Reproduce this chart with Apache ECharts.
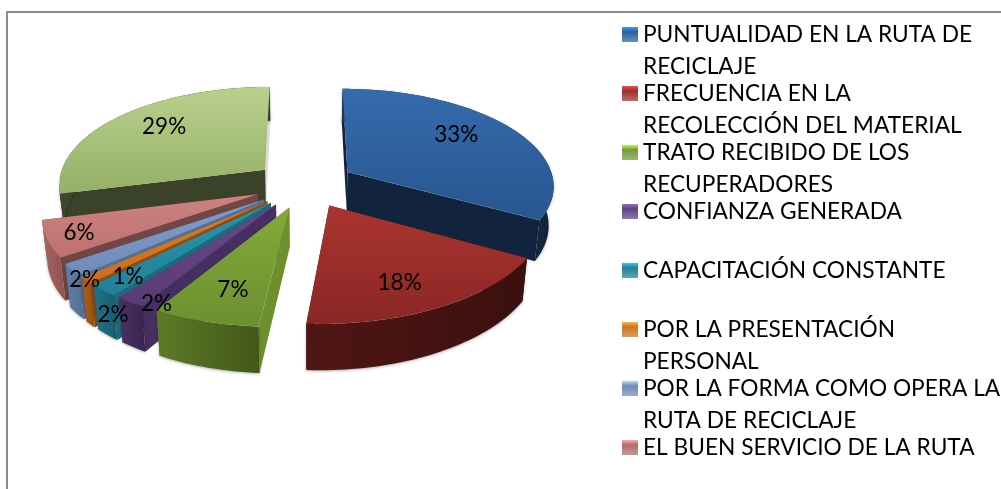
<!DOCTYPE html>
<html><head><meta charset="utf-8">
<style>html,body{margin:0;padding:0;background:#fff;overflow:hidden}#c{width:1001px;height:489px}</style>
<script src="https://cdn.jsdelivr.net/npm/echarts@6/dist/echarts.min.js"></script>
</head><body><div id="c"></div>
<script>
const categories=['PUNTUALIDAD EN LA RUTA DE RECICLAJE','FRECUENCIA EN LA RECOLECCIÓN DEL MATERIAL','TRATO RECIBIDO DE LOS RECUPERADORES','CONFIANZA GENERADA','CAPACITACIÓN CONSTANTE','POR LA PRESENTACIÓN PERSONAL','POR LA FORMA COMO OPERA LA RUTA DE RECICLAJE','EL BUEN SERVICIO DE LA RUTA','OTROS'];
const values=[33,18,7,2,2,1,2,6,29];
const legendLines=[['PUNTUALIDAD EN LA RUTA DE','RECICLAJE'],['FRECUENCIA EN LA','RECOLECCIÓN DEL MATERIAL'],['TRATO RECIBIDO DE LOS','RECUPERADORES'],['CONFIANZA GENERADA',' '],['CAPACITACIÓN CONSTANTE',' '],['POR LA PRESENTACIÓN','PERSONAL'],['POR LA FORMA COMO OPERA LA','RUTA DE RECICLAJE'],['EL BUEN SERVICIO DE LA RUTA',' ']];
const topColors=[['#356bad','#28568f'],['#ab3430','#8a2725'],['#82aa39','#6d9030'],['#6a4788','#593c74'],['#2995b0','#228098'],['#dd7e28','#c96f20'],['#7f9dcb','#6f8cb9'],['#cd8280','#bd7270'],['#b8d08c','#96b068']];
const outerColors=[['#1a3556','#12233d'],['#501614','#3a100e'],['#5c7b26','#435819'],['#4a3166','#38254e'],['#1f7387','#185c6d'],['#ad5f1a','#93500f'],['#6480a8','#526c90'],['#a96563','#8c5250'],['#3d4630','#343c28']];
const innerColors=['#12233d','#3a100e','#6d8f2d','#452e60','#1c6a7c','#8a4e16','#566f96','#714647','#3a432a'];
const endWallColors=['#12233d','#3a100e','#6d8f2d','#452e60','#1c6a7c','#8a4e16','#566f96','#714647','rgba(90,90,90,0.22)'];
const legendColors=['#2c5f9e','#9b2f2c','#76993a','#5f4280','#217f97','#cf7322','#6f8bb5','#b06c6a'];
const drawOrder=[8,0,7,6,5,4,3,1,2];
const labelNudges=[[6,-9],[4,17],[-8.5,15],[-35,41],[-60,60],[-33,28],[-66,38],[-52,11],[-8,-9]];
const pie={cx:304.5,cy:184,A:207,B:97,p:0.13,explode:0.245,h:39,rot:0,bend:8,skew:8,converge:0.02,labelR:0.62};

const total=values.reduce((a,b)=>a+b,0);
const rad=d=>d*Math.PI/180;
function proj(x,y,down){
  const s=1/(1-pie.p*y),b=Math.max(0,y);
  const sx=pie.cx+pie.A*x*s-pie.bend*b*b-pie.skew*b*Math.max(0,-x);
  const k=down?1-pie.converge:1;
  return [pie.cx+(sx-pie.cx)*k,pie.cy+pie.B*y*s+down*s];
}
function sliceAngles(i){let c=0;for(let k=0;k<i;k++)c+=values[k];return [pie.rot+c/total*360,pie.rot+(c+values[i])/total*360];}
function apex(i){const a=sliceAngles(i),m=rad((a[0]+a[1])/2);return [pie.explode*Math.sin(m),-pie.explode*Math.cos(m)];}
function rim(ap,deg,r){return [ap[0]+r*Math.sin(rad(deg)),ap[1]-r*Math.cos(rad(deg))];}
function grad(c,h){return new echarts.graphic.LinearGradient(0,0,h?1:0,h?0:1,[{offset:0,color:c[0]},{offset:1,color:c[1]}]);}
function renderSlice(i){
  const a=sliceAngles(i),ap=apex(i),arc=[];
  for(let d=a[0];d<a[1];d+=1.5)arc.push(rim(ap,d,1));arc.push(rim(ap,a[1],1));
  const top=[ap].concat(arc).map(q=>proj(q[0],q[1],0));
  const wallTop=arc.map(q=>proj(q[0],q[1],0)),wallBot=arc.map(q=>proj(q[0],q[1],pie.h)).reverse();
  const A0=proj(ap[0],ap[1],0),A1=proj(ap[0],ap[1],pie.h);
  const wall=(q)=>[A0,proj(q[0],q[1],0),proj(q[0],q[1],pie.h),A1];
  return {type:'group',children:[
    {type:'polygon',z2:1,shape:{points:wall(arc[0])},style:{fill:innerColors[i]}},
    {type:'polygon',z2:2,shape:{points:wall(arc[arc.length-1])},style:{fill:endWallColors[i]}},
    {type:'polygon',z2:3,shape:{points:wallTop.concat(wallBot)},style:{fill:grad(outerColors[i],true),shadowBlur:3,shadowColor:'rgba(0,0,0,0.3)',shadowOffsetY:1}},
    {type:'polygon',z2:4,shape:{points:top},style:{fill:grad(topColors[i],false)}}
  ]};
}
function renderLabel(params,api){
  const i=params.dataIndex,a=sliceAngles(i),ap=apex(i),q=rim(ap,(a[0]+a[1])/2,pie.labelR),p=proj(q[0],q[1],0);
  return {type:'text',style:{x:p[0]+labelNudges[i][0],y:p[1]+labelNudges[i][1],text:api.value(0)+'%',fill:'#000',font:'22.5px Lato',align:'center',verticalAlign:'middle'}};
}
const series=values.map((v,i)=>({name:categories[i],type:'custom',coordinateSystem:'none',silent:true,animation:false,z:2+drawOrder.indexOf(i),data:[[v]],renderItem:()=>renderSlice(i)}));
series.push({name:'labels',type:'custom',coordinateSystem:'none',silent:true,animation:false,z:40,data:values.map(v=>[v]),renderItem:renderLabel});
const iconPath='path://M0 0L0 0M0 8H16V23H0ZM16 64L16 64';
const lineOf={};categories.forEach((c,i)=>{if(legendLines[i])lineOf[c]=legendLines[i].join('\n');});
function iconFill(c){return new echarts.graphic.LinearGradient(0,0,0,1,[{offset:0,color:echarts.color.lift(c,-0.6)},{offset:0.125,color:echarts.color.lift(c,-0.6)},{offset:0.2,color:c},{offset:0.36,color:echarts.color.lift(c,0.3)},{offset:1,color:echarts.color.lift(c,0.3)}]);}
const chart=echarts.init(document.getElementById('c'),null,{renderer:'canvas'});
chart.setOption({
  animation:false,backgroundColor:'#fff',
  graphic:[{type:'rect',silent:true,z:0,shape:{x:7,y:12,width:1100,height:600},style:{fill:'none',stroke:'#8c8c8c',lineWidth:2}}],
  legend:{orient:'vertical',left:617,top:14,height:640,itemWidth:16,itemHeight:64,itemGap:-5,selectedMode:false,icon:iconPath,
    data:categories.slice(0,8).map((n,i)=>({name:n,itemStyle:{color:iconFill(legendColors[i])}})),
    formatter:n=>lineOf[n],
    textStyle:{fontFamily:'Lato',fontSize:22.7,lineHeight:32,color:'#000'}},
  series
});
</script></body></html>
